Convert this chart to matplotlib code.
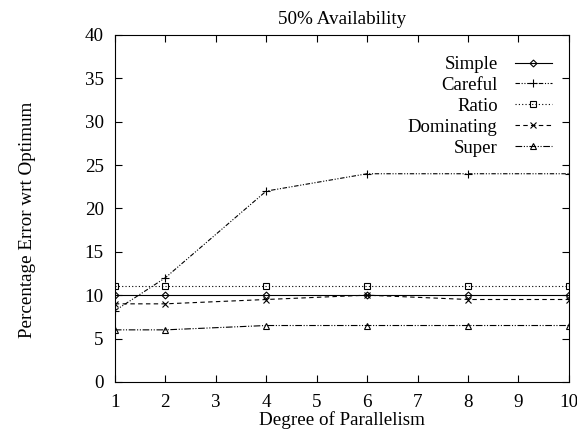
import matplotlib
matplotlib.use("Agg")
import matplotlib.pyplot as plt

# dados
grau = [1, 2, 4, 6, 8, 10]
simple = [10, 10, 10, 10, 10, 10]
careful = [8.2, 12, 22, 24, 24, 24]
ratio = [11, 11, 11, 11, 11, 11]
dominating = [9, 9, 9.5, 10, 9.5, 9.5]
super_ = [6, 6, 6.5, 6.5, 6.5, 6.5]

plt.rcParams["font.family"] = ["Liberation Serif", "DejaVu Serif"]
plt.rcParams["font.size"] = 13.7

fig = plt.figure(figsize=(5.77, 4.32), dpi=100)
ax = fig.add_axes([0.199, 0.116, 0.787, 0.803])

lw = 0.8
ax.plot(grau, simple, color="black", lw=lw, ls="-", marker="D", ms=3.5,
        mfc="none", mew=0.8, label="Simple")
ax.plot(grau, careful, color="black", lw=lw, ls=(0, (4, 1.5, 1, 1.5, 1, 1.5)),
        marker="+", ms=6, mew=0.8, label="Careful")
ax.plot(grau, ratio, color="black", lw=lw, ls=(0, (1, 2)), marker="s", ms=5,
        mfc="none", mew=0.8, label="Ratio")
ax.plot(grau, dominating, color="black", lw=lw, ls=(0, (4, 3)), marker="x",
        ms=5, mew=0.8, label="Dominating")
ax.plot(grau, super_, color="black", lw=lw, ls=(0, (6, 1.5, 1, 1.5, 1, 1.5)),
        marker="^", ms=4.5, mfc="none", mew=0.8, label="Super")

ax.set_xlim(1, 10)
ax.set_ylim(0, 40)
ax.set_xticks(range(1, 11))
ax.set_yticks(range(0, 41, 5))
ax.tick_params(direction="in", top=True, right=True, length=5)
ax.tick_params(axis="x", pad=9)
ax.tick_params(axis="y", pad=8)

ax.set_title("50% Availability", fontsize=13.8, pad=8)
ax.set_xlabel("Degree of Parallelism", labelpad=0)
fig.text(0.047, 0.491, "Percentage Error wrt Optimum", rotation=90,
         ha="center", va="center")

ax.legend(loc="upper right", bbox_to_anchor=(1, 0.988), frameon=False,
          markerfirst=False, handlelength=2.0, labelspacing=0.2,
          borderaxespad=0.5, fontsize=13.5, handletextpad=0.9)

plt.savefig("out.png", dpi=100)
